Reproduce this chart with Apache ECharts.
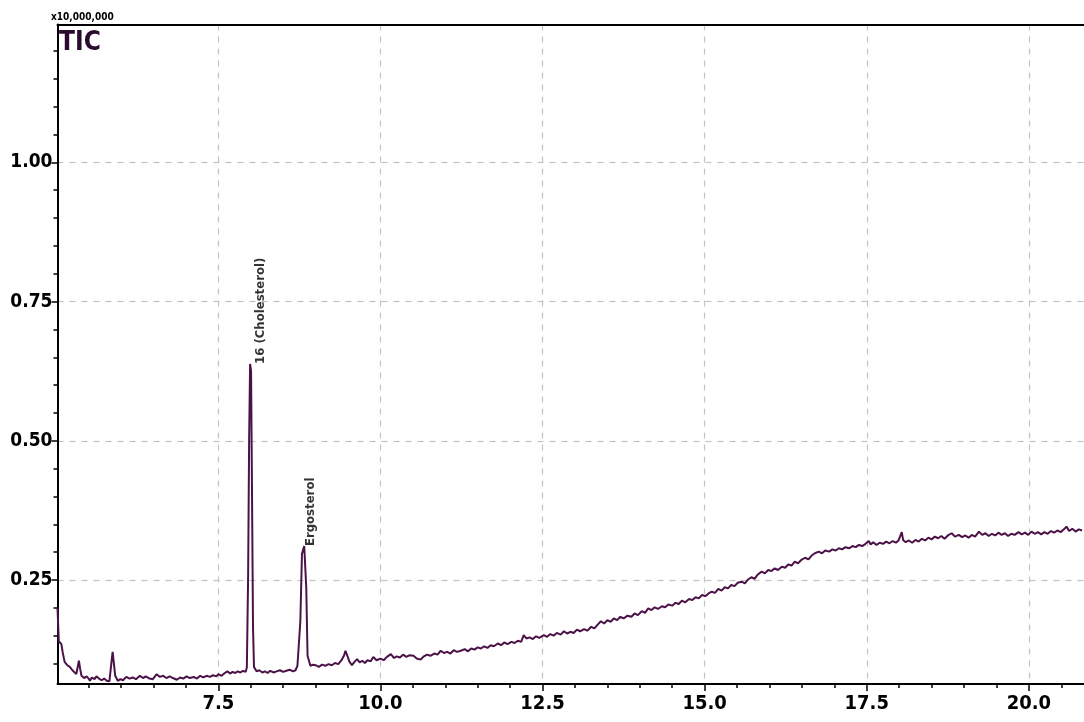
<!DOCTYPE html>
<html>
<head>
<meta charset="utf-8">
<script src="https://cdn.jsdelivr.net/npm/echarts@6/dist/echarts.min.js"></script>
<style>
html,body{margin:0;padding:0;background:#fff;}
#chart{width:1084px;height:722px;}
</style>
</head>
<body>
<div id="chart"></div>
<script>
// Retention time (min) and TIC intensity (x10,000,000)
const retentionTime = [
  5.02,5.04,5.08,5.10,5.13,5.17,5.21,5.25,5.28,5.31,5.33,5.35,5.37,5.39,5.43,5.47,5.50,5.52,5.55,5.59,5.62,5.66,5.70,5.74,5.78,5.82,
  5.85,5.87,5.89,5.91,5.95,5.99,6.03,6.08,6.13,6.18,6.23,6.29,6.34,6.38,6.44,6.49,6.55,6.60,6.65,6.70,6.75,6.80,6.86,6.91,6.96,
  7.01,7.06,7.12,7.17,7.22,7.27,7.32,7.37,7.42,7.47,7.50,7.55,7.60,7.64,7.68,7.72,7.76,7.80,7.84,7.88,7.92,
  7.94,7.96,7.975,7.99,8.005,8.02,8.035,8.05,8.09,8.13,8.18,8.22,8.26,8.30,8.35,8.40,8.45,8.50,8.55,8.60,8.65,8.69,8.72,
  8.765,8.79,8.825,8.856,8.876,8.92,8.96,
  9.00,9.05,9.10,9.15,9.20,9.25,9.30,9.35,9.40,9.44,9.46,9.49,9.52,9.56,9.60,9.64,9.68,9.72,9.76,9.80,9.85,9.89,9.94,
  10.00,10.05,10.10,10.16,10.21,10.25,10.30,10.35,10.40,10.45,10.51,10.56,10.62,10.67,10.72,10.77,10.83,10.88,10.93,10.98,
  11.03,11.08,11.13,11.18,11.24,11.30,11.35,11.40,11.45,11.50,11.55,11.60,11.65,11.70,11.75,11.81,11.86,11.91,11.96,
  12.02,12.07,12.12,12.17,12.21,12.25,12.30,12.35,12.40,12.45,12.52,12.57,12.62,12.67,12.72,12.78,12.83,12.88,12.93,12.98,
  13.03,13.08,13.14,13.19,13.25,13.30,13.35,13.40,13.45,13.50,13.55,13.60,13.65,13.70,13.75,13.81,13.87,13.92,13.97,
  14.03,14.08,14.13,14.18,14.23,14.28,14.34,14.39,14.44,14.50,14.55,14.60,14.65,14.70,14.76,14.81,14.86,14.91,14.96,
  15.01,15.06,15.11,15.16,15.21,15.26,15.31,15.36,15.41,15.46,15.51,15.57,15.62,15.67,15.72,15.77,15.82,15.88,15.93,15.98,
  16.03,16.08,16.13,16.19,16.24,16.29,16.34,16.39,16.44,16.49,16.55,16.60,16.65,16.70,16.76,16.81,16.86,16.92,16.97,
  17.02,17.07,17.12,17.17,17.23,17.28,17.33,17.38,17.43,17.48,17.53,17.56,17.60,17.65,17.70,17.75,17.80,17.85,17.90,17.95,17.99,
  18.02,18.04,18.06,18.10,18.15,18.20,18.25,18.30,18.35,18.40,18.45,18.50,18.55,18.60,18.65,18.70,18.75,18.81,18.86,18.92,18.97,
  19.02,19.07,19.12,19.17,19.23,19.28,19.33,19.38,19.43,19.48,19.53,19.58,19.63,19.68,19.73,19.78,19.84,19.89,19.94,19.99,
  20.04,20.09,20.14,20.19,20.24,20.29,20.34,20.39,20.44,20.49,20.54,20.58,20.62,20.67,20.72,20.77,20.82
];
const ticIntensity = [
  0.200,0.140,0.135,0.120,0.103,0.097,0.094,0.088,0.085,0.081,0.078,0.105,0.090,0.078,0.074,0.077,0.073,0.069,0.075,0.072,0.077,0.073,0.070,0.073,0.069,0.068,
  0.100,0.121,0.100,0.078,0.069,0.072,0.070,0.076,0.073,0.075,0.072,0.078,0.074,0.077,0.073,0.072,0.081,0.076,0.078,0.074,0.077,0.074,0.071,0.075,0.073,
  0.077,0.074,0.076,0.073,0.078,0.075,0.078,0.076,0.079,0.077,0.081,0.078,0.083,0.086,0.082,0.085,0.083,0.086,0.084,0.087,0.085,
  0.093,0.260,0.500,0.638,0.625,0.400,0.166,0.094,0.086,0.088,0.084,0.086,0.083,0.087,0.084,0.086,0.088,0.085,0.087,0.089,0.086,0.088,0.096,
  0.176,0.297,0.311,0.237,0.114,0.096,0.098,
  0.097,0.094,0.098,0.096,0.099,0.097,0.101,0.099,0.106,0.115,0.123,0.114,0.104,0.097,0.103,0.108,0.102,0.105,0.101,0.106,0.104,0.112,0.106,
  0.109,0.106,0.112,0.117,0.110,0.113,0.111,0.116,0.112,0.115,0.114,0.109,0.107,0.113,0.116,0.114,0.118,0.116,0.123,0.119,
  0.121,0.118,0.124,0.121,0.123,0.126,0.122,0.127,0.125,0.129,0.127,0.131,0.128,0.133,0.131,0.136,0.133,0.138,0.135,
  0.139,0.137,0.141,0.139,0.151,0.145,0.147,0.144,0.149,0.146,0.151,0.148,0.153,0.150,0.155,0.152,0.158,0.154,0.157,0.155,
  0.161,0.158,0.162,0.159,0.166,0.163,0.170,0.176,0.172,0.178,0.175,0.181,0.178,0.184,0.181,0.186,0.184,0.190,0.187,
  0.194,0.191,0.199,0.196,0.201,0.198,0.203,0.201,0.206,0.204,0.209,0.207,0.213,0.210,0.216,0.214,0.219,0.217,0.223,
  0.221,0.226,0.229,0.227,0.234,0.231,0.237,0.235,0.241,0.239,0.245,0.247,0.244,0.251,0.255,0.252,0.260,0.265,0.262,0.268,
  0.266,0.271,0.268,0.274,0.272,0.278,0.276,0.283,0.280,0.286,0.290,0.287,0.294,0.298,0.301,0.298,0.303,0.301,0.305,
  0.303,0.307,0.305,0.309,0.307,0.311,0.309,0.313,0.311,0.315,0.320,0.314,0.318,0.313,0.317,0.315,0.319,0.316,0.320,0.317,0.321,
  0.318,0.336,0.322,0.318,0.321,0.317,0.322,0.319,0.324,0.321,0.326,0.323,0.328,0.325,0.329,0.324,0.330,0.334,0.328,0.331,0.327,
  0.330,0.326,0.331,0.328,0.337,0.331,0.334,0.329,0.333,0.330,0.335,0.331,0.334,0.329,0.333,0.331,0.336,0.332,0.335,0.331,
  0.337,0.333,0.336,0.332,0.336,0.333,0.338,0.335,0.339,0.336,0.341,0.346,0.338,0.342,0.337,0.341,0.339
];
const peakNames = ['16 (Cholesterol)', 'Ergosterol'];
const peakTimes = [7.99, 8.825];
const peakHeights = [0.638, 0.311];

const xMajorTicks = [7.5, 10.0, 12.5, 15.0, 17.5, 20.0];
const xMinorTicks = [5.5,6.0,6.5,7.0,7.5,8.0,8.5,9.0,9.5,10.0,10.5,11.0,11.5,12.0,12.5,13.0,13.5,14.0,14.5,15.0,15.5,16.0,16.5,17.0,17.5,18.0,18.5,19.0,19.5,20.0,20.5];
const yMajorTicks = [0.25, 0.50, 0.75, 1.00];
const yMinorTicks = [0.10,0.15,0.20,0.25,0.30,0.35,0.40,0.45,0.50,0.55,0.60,0.65,0.70,0.75,0.80,0.85,0.90,0.95,1.00,1.05,1.10,1.15,1.20];

const FONT = '"DejaVu Sans Condensed", "Liberation Sans Narrow", sans-serif';
const X_MIN = 5.02, X_MAX = 20.85, Y_MIN = 0.0633, Y_MAX = 1.2475;

const lineData = retentionTime.map((t, i) => [t, ticIntensity[i]]);
const peakData = peakNames.map((n, i) => ({
  value: [peakTimes[i], peakHeights[i], n],
  label: { distance: i === 0 ? 8 : 5, offset: [0, i === 0 ? 2 : 1] }
}));

const chart = echarts.init(document.getElementById('chart'), null, { renderer: 'canvas' });
chart.setOption({
  animation: false,
  backgroundColor: '#ffffff',
  grid: { left: 57.5, right: 0, top: 24.5, bottom: 38, containLabel: false },
  xAxis: [
    {
      type: 'value', position: 'bottom', min: X_MIN, max: X_MAX,
      axisLine: { show: true, onZero: false, lineStyle: { color: '#000', width: 2 } },
      axisTick: { show: true, length: 4, customValues: xMinorTicks, lineStyle: { color: '#000', width: 1.5 } },
      axisLabel: { show: false },
      splitLine: { show: false }
    },
    {
      type: 'value', position: 'bottom', min: X_MIN, max: X_MAX,
      axisLine: { show: false, onZero: false },
      axisTick: { show: true, length: 7, customValues: xMajorTicks, lineStyle: { color: '#000', width: 1.5 } },
      axisLabel: {
        show: true, customValues: xMajorTicks, margin: 10,
        fontFamily: FONT, fontWeight: 'bold', fontSize: 20, color: '#000',
        formatter: v => v.toFixed(1)
      },
      splitLine: { show: true, lineStyle: { color: '#c4c4c4', width: 1.2, type: [6, 6] } }
    },
    {
      type: 'value', position: 'top', min: X_MIN, max: X_MAX,
      axisLine: { show: true, onZero: false, lineStyle: { color: '#000', width: 2 } },
      axisTick: { show: false }, axisLabel: { show: false }, splitLine: { show: false }
    }
  ],
  yAxis: [
    {
      type: 'value', position: 'left', min: Y_MIN, max: Y_MAX,
      axisLine: { show: true, onZero: false, lineStyle: { color: '#000', width: 2 } },
      axisTick: { show: true, length: 4, customValues: yMinorTicks, lineStyle: { color: '#000', width: 1.5 } },
      axisLabel: { show: false },
      splitLine: { show: false }
    },
    {
      type: 'value', position: 'left', min: Y_MIN, max: Y_MAX,
      axisLine: { show: false, onZero: false },
      axisTick: { show: true, length: 6, customValues: yMajorTicks, lineStyle: { color: '#000', width: 1.5 } },
      axisLabel: {
        show: true, customValues: yMajorTicks, margin: 5,
        fontFamily: FONT, fontWeight: 'bold', fontSize: 19, color: '#000',
        formatter: v => v.toFixed(2)
      },
      splitLine: { show: true, lineStyle: { color: '#c4c4c4', width: 1.2, type: [6, 6] } }
    }
  ],
  graphic: [
    { type: 'text', left: 59, top: 30, style: { text: 'TIC', fontFamily: FONT, fontWeight: 'bold', fontSize: 26, fill: '#2a0a2e' } },
    { type: 'text', left: 51, top: 12, style: { text: 'x10,000,000', fontFamily: FONT, fontWeight: 'bold', fontSize: 10, fill: '#000' } }
  ],
  series: [
    {
      type: 'line', xAxisIndex: 0, yAxisIndex: 0, data: lineData,
      showSymbol: false, symbol: 'none',
      lineStyle: { color: '#4b1248', width: 2 }, z: 3
    },
    {
      type: 'scatter', xAxisIndex: 0, yAxisIndex: 0, data: peakData,
      symbol: 'circle', symbolSize: 1, itemStyle: { color: 'rgba(0,0,0,0)' }, z: 4,
      label: {
        show: true, position: 'right', rotate: 90, align: 'left', verticalAlign: 'middle',
        fontFamily: FONT, fontWeight: 'bold', fontSize: 13, color: '#000',
        formatter: p => p.value[2]
      }
    }
  ]
});
</script>
</body>
</html>
